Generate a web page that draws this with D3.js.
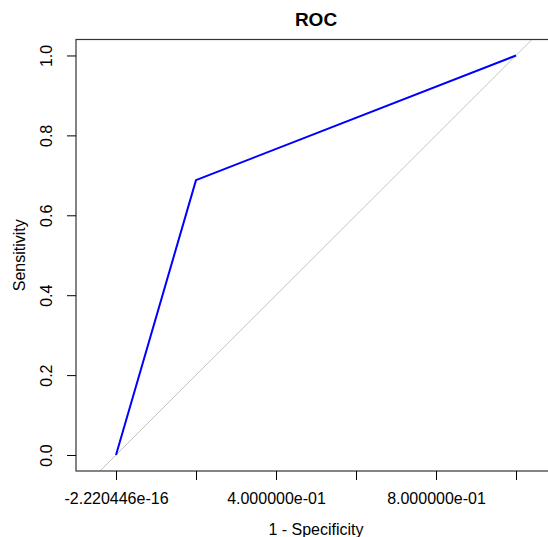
<!DOCTYPE html>
<html>
<head>
<meta charset="utf-8">
<script src="https://cdn.jsdelivr.net/npm/d3@7"></script>
<style>
  body { margin: 0; background: #fff; }
  svg { display: block; font-family: "Liberation Sans", Arial, sans-serif; }
</style>
</head>
<body>
<svg id="chart" width="548" height="537"></svg>
<script>
// ROC curve points (1 - specificity, sensitivity)
var fpr = [0, 0.2, 1];
var tpr = [0, 0.688, 1];

// chance diagonal
var diagX = [-0.04, 1.04];
var diagY = [-0.04, 1.04];

var xTicks = [0, 0.2, 0.4, 0.6, 0.8, 1.0];
// R drops the labels that would overlap
var xTickLabels = ["-2.220446e-16", "", "4.000000e-01", "", "8.000000e-01", ""];
var yTicks = [0, 0.2, 0.4, 0.6, 0.8, 1.0];
var yTickLabels = ["0.0", "0.2", "0.4", "0.6", "0.8", "1.0"];

var svg = d3.select("#chart");

// plot box: x runs past the right edge of the picture (asp = 1)
var x = d3.scaleLinear().domain([-0.1, 1.1]).range([76, 556]);
var y = d3.scaleLinear().domain([-0.04, 1.04]).range([471, 39.5]);

svg.append("defs").append("clipPath").attr("id", "plotClip")
    .append("rect")
    .attr("x", x(-0.1)).attr("y", y(1.04))
    .attr("width", x(1.1) - x(-0.1)).attr("height", y(-0.04) - y(1.04));

var plot = svg.append("g").attr("clip-path", "url(#plotClip)");

var line = d3.line()
    .x(function(d) { return x(d[0]); })
    .y(function(d) { return y(d[1]); });

plot.append("path")
    .datum(d3.zip(diagX, diagY))
    .attr("fill", "none")
    .attr("stroke", "#c4c4c4")
    .attr("stroke-width", 1)
    .attr("d", line);

plot.append("path")
    .datum(d3.zip(fpr, tpr))
    .attr("fill", "none")
    .attr("stroke", "#0000ff")
    .attr("stroke-width", 2)
    .attr("stroke-linejoin", "round")
    .attr("d", line);

// box
svg.append("rect")
    .attr("x", x(-0.1)).attr("y", y(1.04))
    .attr("width", x(1.1) - x(-0.1)).attr("height", y(-0.04) - y(1.04))
    .attr("fill", "none")
    .attr("stroke", "#333")
    .attr("stroke-width", 1.2);

// x axis
var xAxis = d3.axisBottom(x)
    .tickValues(xTicks)
    .tickSize(9)
    .tickPadding(12)
    .tickFormat(function(d, i) { return xTickLabels[i]; });

var gx = svg.append("g")
    .attr("transform", "translate(0," + y(-0.04) + ")")
    .call(xAxis);
gx.select(".domain").remove();
gx.selectAll(".tick line").attr("stroke", "#000");
gx.selectAll(".tick text")
    .attr("fill", "#000")
    .attr("font-size", 16)
    .attr("dy", null)
    .attr("y", 33);

// y axis
var yAxis = d3.axisLeft(y)
    .tickValues(yTicks)
    .tickSize(9)
    .tickFormat(function(d, i) { return yTickLabels[i]; });

var gy = svg.append("g")
    .attr("transform", "translate(" + x(-0.1) + ",0)")
    .call(yAxis);
gy.select(".domain").remove();
gy.selectAll(".tick line").attr("stroke", "#000");
gy.selectAll(".tick text")
    .attr("fill", "#000")
    .attr("font-size", 16)
    .attr("x", null).attr("dy", null)
    .attr("text-anchor", "middle")
    .attr("transform", "translate(-24,0) rotate(-90)");

// titles
svg.append("text")
    .attr("x", (x(-0.1) + x(1.1)) / 2)
    .attr("y", 26)
    .attr("text-anchor", "middle")
    .attr("font-size", 19)
    .attr("font-weight", "bold")
    .text("ROC");

svg.append("text")
    .attr("x", (x(-0.1) + x(1.1)) / 2)
    .attr("y", 535)
    .attr("text-anchor", "middle")
    .attr("font-size", 16)
    .text("1 - Specificity");

svg.append("text")
    .attr("transform", "translate(25," + (y(-0.04) + y(1.04)) / 2 + ") rotate(-90)")
    .attr("text-anchor", "middle")
    .attr("font-size", 16)
    .text("Sensitivity");
</script>
</body>
</html>
